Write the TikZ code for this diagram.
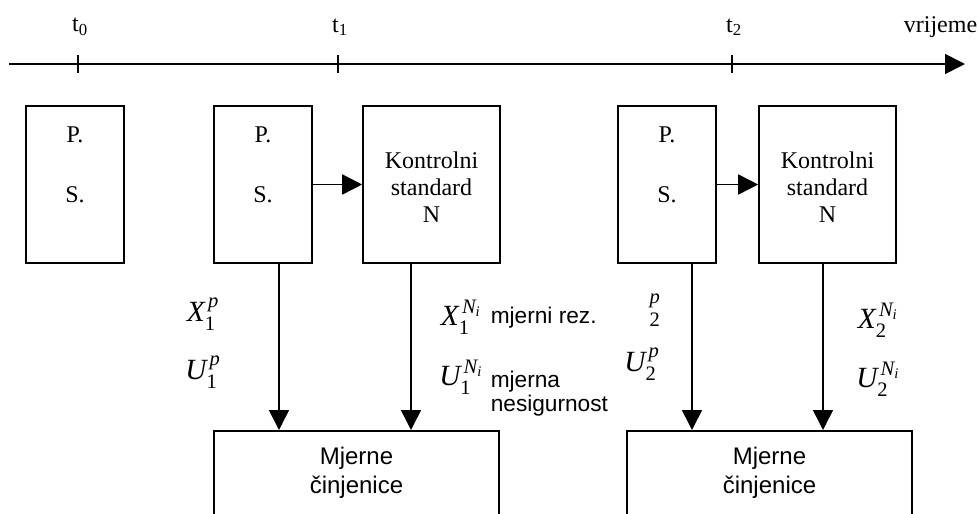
\documentclass[tikz,border=0pt]{standalone}
\usepackage{amsmath}
\usepackage{fontspec}
\setmainfont{Liberation Serif}
\newfontfamily\arialf{Liberation Sans}
\usetikzlibrary{arrows.meta}
\begin{document}
\begin{tikzpicture}[x=0.75pt,y=-0.75pt,
  line width=1.2pt,
  box/.style={draw,line width=1.2pt,minimum width=#1*0.75pt,minimum height=157*0.75pt,inner sep=0pt},
  arr/.style={-{Triangle[length=15pt,width=15pt]}},
  tt/.style={font=\fontsize{18}{20.5}\selectfont,inner sep=0pt,align=center},
  st/.style={font=\arialf\fontsize{17}{19}\selectfont,inner sep=0pt,align=left},
  mt/.style={font=\fontsize{22}{24}\selectfont,inner sep=0pt},
  bt/.style={font=\arialf\fontsize{18}{22}\selectfont,inner sep=0pt,align=center}]
\useasboundingbox (0,0) rectangle (979,514);
\clip (0,0) rectangle (979,514);
% timeline
\coordinate (tl0) at (9,64);
\coordinate (tl1) at (965,64);
\draw[arr] (tl0) -- (tl1);
\foreach \x/\n in {78/0,338/1,732/2}{
  \coordinate (tk\n) at (\x,64);
  \draw ([yshift=-6.75pt]tk\n) -- ([yshift=6.75pt]tk\n);
  \node[tt] (lt\n) at (\x+2,27) {t$_{\textrm{\n}}$};
}
\node[tt,anchor=east] (vr) at (978,27) {vrijeme};
% top boxes
\node[box=98] (b0) at (75,184.5) {};
\node[box=98] (b1) at (263,184.5) {};
\node[box=137] (k1) at (431.5,184.5) {};
\node[box=98] (b2) at (667,184.5) {};
\node[box=137] (k2) at (827.5,184.5) {};
\foreach \b in {b0,b1,b2}{
  \node[tt] at ([yshift=37pt]\b.center) {P.};
  \node[tt] at ([yshift=-8pt]\b.center) {S.};
}
\foreach \k in {k1,k2}{
  \node[tt] at ([yshift=-2pt]\k.center) {Kontrolni\\standard\\N};
}
\draw[arr] (b1) -- (k1);
\draw[arr] (b2) -- (k2);
% bottom boxes
\node[draw,line width=1.2pt,minimum width=285*0.75pt,minimum height=120*0.75pt,anchor=north,inner sep=0pt] (m1) at (356.5,430) {};
\node[draw,line width=1.2pt,minimum width=285*0.75pt,minimum height=120*0.75pt,anchor=north,inner sep=0pt] (m2) at (769.5,430) {};
\node[bt] at (356.5,473) {Mjerne\\činjenice};
\node[bt] at (769.5,473) {Mjerne\\činjenice};
% vertical arrows
\draw[arr] (b1.south -| 279,0) -- (m1.north -| 279,0);
\draw[arr] (k1.south -| 411,0) -- (m1.north -| 411,0);
\draw[arr] (b2.south -| 692,0) -- (m2.north -| 692,0);
\draw[arr] (k2.south -| 823,0) -- (m2.north -| 823,0);
% labels
\node[mt] (x1p) at (203,314) {$\textit{X}_{\textrm{1}}^{\,\textit{p}}$};
\node[mt] (u1p) at (203,372) {$\textit{U}_{\textrm{1}}^{\,\textit{p}}$};
\node[mt] (x1n) at (461,317) {$\textit{X}_{\textrm{1}}^{\,\textit{N}_{\textit{i}}}$};
\node[mt] (u1n) at (461,377) {$\textit{U}_{\textrm{1}}^{\,\textit{N}_{\textit{i}}}$};
\node[st,anchor=base west] (mr) at (490,323) {mjerni rez.};
\node[st,anchor=base west] (mn) at (490,387) {mjerna};
\node[st,anchor=base west] (ns) at (490,411) {nesigurnost};
\node[mt] (x2p) at (655,310) {${}_{\textrm{2}}^{\textit{p}}$};
\node[mt] (u2p) at (642,364) {$\textit{U}_{\textrm{2}}^{\,\textit{p}}$};
\node[mt] (x2n) at (878,320) {$\textit{X}_{\textrm{2}}^{\,\textit{N}_{\textit{i}}}$};
\node[mt] (u2n) at (878,379) {$\textit{U}_{\textrm{2}}^{\,\textit{N}_{\textit{i}}}$};
\end{tikzpicture}
\end{document}
